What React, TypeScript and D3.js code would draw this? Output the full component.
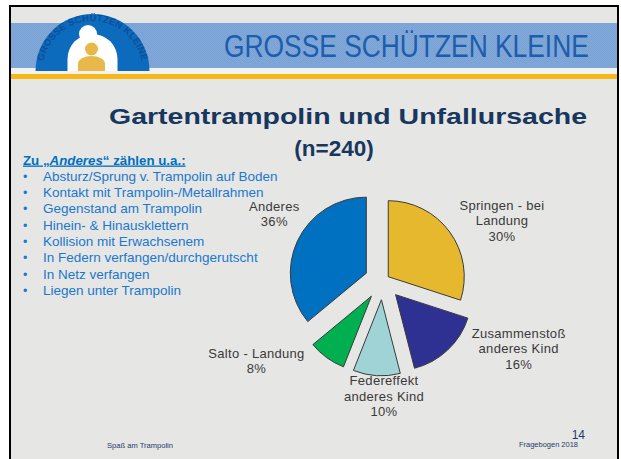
import React from "react";
import * as d3 from "d3";

// ---------- data ----------
const categories: string[][] = [
  ["Springen - bei", "Landung"],
  ["Zusammenstoß", "anderes Kind"],
  ["Federeffekt", "anderes Kind"],
  ["Salto - Landung"],
  ["Anderes"],
];
const values: number[] = [30, 16, 10, 8, 36];
const sliceColors: string[] = ["#e6b82e", "#2e3192", "#9fd3d6", "#00b050", "#0070c0"];

const listHeading = ["Zu „", "Anderes", "“ zählen u.a.:"];
const listItems: string[] = [
  "Absturz/Sprung v. Trampolin auf Boden",
  "Kontakt mit Trampolin-/Metallrahmen",
  "Gegenstand am Trampolin",
  "Hinein- & Hinausklettern",
  "Kollision mit Erwachsenem",
  "In Federn verfangen/durchgerutscht",
  "In Netz verfangen",
  "Liegen unter Trampolin",
];

const bannerTitle = "GROSSE SCHÜTZEN KLEINE";
const mainTitle = "Gartentrampolin und Unfallursache";
const subTitle = "(n=240)";
const footerLeft = "Spaß am Trampolin";
const footerRight = "Fragebogen 2018";
const pageNumber = "14";

// ---------- layout (styles, not data) ----------
const W = 621;
const H = 459;
const cx = 382.6;
const cy = 280.8;
const R = 76;
const explode = [7, 19, 19, 19, 18];
const labelPos: [number, number][] = [
  [502, 205],
  [518.7, 333.3],
  [384, 380.7],
  [256.5, 353.3],
  [274.3, 206],
];

export default function App() {
  const pie = d3
    .pie<number>()
    .sort(null)
    .value((d) => d)
    .startAngle(0)
    .endAngle(2 * Math.PI);
  const arcs = pie(values);
  const arcGen = d3.arc<d3.PieArcDatum<number>>().innerRadius(0).outerRadius(R);

  const logoCx = 92.5;
  const logoCy = 71;
  const arcTextPath = `M ${logoCx - 50} ${logoCy} A 50 50 0 0 1 ${logoCx + 50} ${logoCy}`;

  const listX = 43;
  const listY0 = 180.5;
  const listStep = 16.37;

  return (
    <svg
      width={W}
      height={H}
      style={{ position: "absolute", left: 0, top: 0, fontFamily: "Liberation Sans, Arial, sans-serif" }}
    >
      <defs>
        <path id="logoArc" d={arcTextPath} />
        <pattern id="checker" width="2" height="2" patternUnits="userSpaceOnUse">
          <rect width="2" height="2" fill="#80a8d8" />
          <rect width="1" height="1" fill="#7aa2d4" />
          <rect x="1" y="1" width="1" height="1" fill="#7aa2d4" />
        </pattern>
      </defs>
      <rect x={0} y={0} width={W} height={H} fill="#ffffff" />
      {/* slide */}
      <rect x={10} y={6} width={608} height={H} fill="#e6e6e4" stroke="#000" strokeWidth={2} />
      {/* banner */}
      <rect x={11} y={23} width={606} height={45} fill="url(#checker)" />
      <rect x={11} y={68} width={606} height={6} fill="#f2f2f2" />
      <rect x={11} y={74} width={606} height={5} fill="#f5b816" />
      <text
        transform="translate(224,57) scale(0.851,1)"
        x={0}
        y={0}
        fontSize={31}
        fill="#1c5dad"
      >
        {bannerTitle}
      </text>
      {/* logo */}
      <g>
        <path
          d={`M ${logoCx - 57} ${logoCy} A 57 57 0 0 1 ${logoCx + 57} ${logoCy} Z`}
          fill="#0d6bbd"
        />
        <text fontSize={9.5} fontWeight="bold" fill="#0b4f9a" letterSpacing={0.2}>
          <textPath href="#logoArc" startOffset="50%" textAnchor="middle">
            {bannerTitle}
          </textPath>
        </text>
        <path
          d={`M ${logoCx - 25} ${logoCy} L ${logoCx - 25} ${logoCy - 12} A 25 25 0 0 1 ${logoCx + 25} ${logoCy - 12} L ${logoCx + 25} ${logoCy} Z`}
          fill="#ffffff"
        />
        <circle cx={88} cy={34} r={9} fill="#ffffff" />
        <circle cx={91.5} cy={49} r={6.5} fill="#e8b84a" />
        <path
          d={`M 78 ${logoCy} L 78 64 A 13.5 8 0 0 1 105 64 L 105 ${logoCy} Z`}
          fill="#e8b84a"
        />
      </g>
      {/* titles */}
      <text
        x={109}
        y={124}
        fontSize={22.5}
        fontWeight="bold"
        fill="#17375e"
        textLength={478}
        lengthAdjust="spacingAndGlyphs"
      >
        {mainTitle}
      </text>
      <text x={334} y={156} fontSize={22.5} fontWeight="bold" fill="#17375e" textAnchor="middle">
        {subTitle}
      </text>
      {/* list */}
      <text x={23} y={164.5} fontSize={13.3} fontWeight="bold" fill="#0070c0" textDecoration="underline">
        <tspan>{listHeading[0]}</tspan>
        <tspan fontStyle="italic">{listHeading[1]}</tspan>
        <tspan>{listHeading[2]}</tspan>
      </text>
      {listItems.map((t, i) => (
        <g key={i}>
          <text x={23} y={listY0 + i * listStep} fontSize={12.5} fill="#1a78cf">
            •
          </text>
          <text x={listX} y={listY0 + i * listStep} fontSize={13.5} fill="#1a78cf">
            {t}
          </text>
        </g>
      ))}
      {/* pie */}
      {arcs.map((a, i) => {
        const mid = (a.startAngle + a.endAngle) / 2;
        const dx = Math.sin(mid) * explode[i];
        const dy = -Math.cos(mid) * explode[i];
        return (
          <path
            key={i}
            d={arcGen(a) || ""}
            transform={`translate(${cx + dx},${cy + dy})`}
            fill={sliceColors[i]}
            stroke="#3a3a3a"
            strokeWidth={1}
          />
        );
      })}
      {arcs.map((a, i) => {
        const [lx, ly] = labelPos[i];
        const lines = [...categories[i], `${values[i]}%`];
        return (
          <text
            key={i}
            x={lx}
            y={ly + 4.5}
            fontSize={13}
            fill="#3a3a3a"
            textAnchor="middle"
            letterSpacing={0.3}
          >
            {lines.map((l, j) => (
              <tspan key={j} x={lx} dy={j === 0 ? 0 : 15.5}>
                {l}
              </tspan>
            ))}
          </text>
        );
      })}
      {/* footer */}
      <text x={107} y={447.5} fontSize={7} fill="#1f3b6e" textLength={66} lengthAdjust="spacingAndGlyphs">
        {footerLeft}
      </text>
      <text x={519} y={447} fontSize={7} fill="#1f3b6e" textLength={59} lengthAdjust="spacingAndGlyphs">
        {footerRight}
      </text>
      <text x={585} y={438.5} fontSize={12} fill="#1f3b6e" textAnchor="end">
        {pageNumber}
      </text>
    </svg>
  );
}
